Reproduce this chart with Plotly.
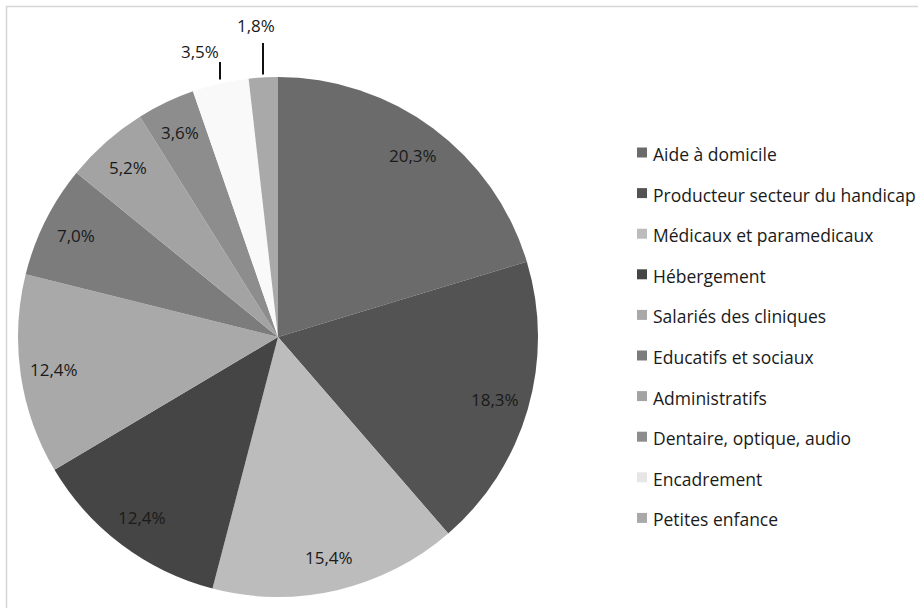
import math
import plotly.graph_objects as go

categories = ["Aide à domicile", "Producteur secteur du handicap", "Médicaux et paramedicaux",
              "Hébergement", "Salariés des cliniques", "Educatifs et sociaux", "Administratifs",
              "Dentaire, optique, audio", "Encadrement", "Petites enfance"]
values = [20.3, 18.3, 15.4, 12.4, 12.4, 7.0, 5.2, 3.6, 3.5, 1.8]
value_labels = ["20,3%", "18,3%", "15,4%", "12,4%", "12,4%", "7,0%", "5,2%", "3,6%", "3,5%", "1,8%"]
colors = ["#6b6b6b", "#535353", "#bcbcbc", "#454545", "#a9a9a9", "#7c7c7c", "#a3a3a3",
          "#8d8d8d", "#f9f9f9", "#a9a9a9"]
outside = [False] * 8 + [True, True]

W, H = 918, 608
CX, CY, R = 278, 337, 260
FONT = "Open Sans"
TXT = "#1a1a1a"

def px(x):
    return x / W

def py(y):
    return 1 - y / H

fig = go.Figure(go.Pie(
    labels=categories, values=values, sort=False, direction="clockwise", rotation=0,
    marker=dict(colors=colors, line=dict(width=0)),
    textinfo="none", hoverinfo="label+percent", showlegend=False,
    domain=dict(x=[px(CX - R), px(CX + R)], y=[py(CY + R), py(CY - R)]),
))

annotations = []
shapes = []
total = sum(values)
cum = 0.0
for i, (v, lab) in enumerate(zip(values, value_labels)):
    mid = (cum + v / 2) / total * 2 * math.pi
    cum += v
    sx, sy = math.sin(mid), -math.cos(mid)
    if not outside[i]:
        lx, ly = CX + 0.87 * R * sx, CY + 0.87 * R * sy
    else:
        ex, ey = CX + R * sx, CY + R * sy
        ex = round(ex)
        if i == 8:
            y0, y1, lx, ly = ey - 4, 62, ex - 20, 52
        else:
            y0, y1, lx, ly = ey - 3, 43, ex - 7, 25
        shapes.append(dict(type="line", xref="paper", yref="paper", x0=px(ex), x1=px(ex),
                           y0=py(y0), y1=py(y1), line=dict(color="#111111", width=2)))
    annotations.append(dict(x=px(lx), y=py(ly), xref="paper", yref="paper", text=lab,
                            showarrow=False, xanchor="center", yanchor="middle",
                            font=dict(family=FONT, size=17, color=TXT)))

# custom legend
LEG_X, LEG_Y0, LEG_DY = 637, 152.5, 40.6
for i, (cat, col) in enumerate(zip(categories, colors)):
    yc = LEG_Y0 + i * LEG_DY
    c = "#e6e6e6" if col == "#f9f9f9" else col
    shapes.append(dict(type="rect", xref="paper", yref="paper", x0=px(LEG_X), x1=px(LEG_X + 10),
                       y0=py(yc + 5), y1=py(yc - 5), fillcolor=c, line=dict(width=0)))
    annotations.append(dict(x=px(LEG_X + 14), y=py(yc + 1.5), xref="paper", yref="paper", text=cat,
                            showarrow=False, xanchor="left", yanchor="middle",
                            font=dict(family=FONT, size=17.5, color=TXT)))

# frame
shapes.append(dict(type="line", xref="paper", yref="paper", x0=px(6), x1=1.05, y0=py(6.5), y1=py(6.5),
                   line=dict(color="#d6d6d6", width=1.5)))
shapes.append(dict(type="line", xref="paper", yref="paper", x0=px(6.5), x1=px(6.5), y0=-0.05, y1=py(6),
                   line=dict(color="#d6d6d6", width=1.5)))

fig.update_layout(width=W, height=H, margin=dict(l=0, r=0, t=0, b=0),
                  paper_bgcolor="white", plot_bgcolor="white",
                  annotations=annotations, shapes=shapes, showlegend=False)
fig.write_html("out.html")
